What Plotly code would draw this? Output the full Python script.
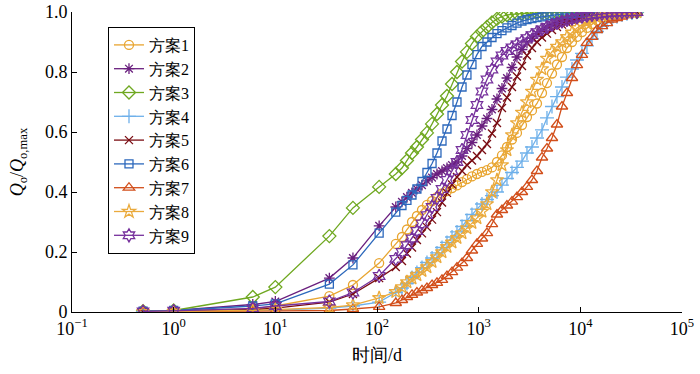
import plotly.graph_objects as go

time_d = [0.5, 1, 6, 10, 34, 58, 105, 153, 176, 197, 221, 247, 277, 310, 348, 389, 436, 488,
          547, 612, 686, 767, 859, 962, 1078, 1207, 1352, 1514, 1695, 1898, 2127, 2381, 2667,
          2986, 3344, 3745, 4197, 4697, 5261, 5891, 6600, 7389, 8279, 9268, 10380, 11623,
          13020, 14578, 16330, 18284, 20480, 22932, 25700, 28762, 32210, 36075]

names = ["方案1", "方案2", "方案3", "方案4", "方案5", "方案6", "方案7", "方案8", "方案9"]

x_tickvals = [0.1, 1, 10, 100, 1000, 10000, 100000]
x_ticktext = ["10<sup>−1</sup>", "10<sup>0</sup>", "10<sup>1</sup>", "10<sup>2</sup>",
              "10<sup>3</sup>", "10<sup>4</sup>", "10<sup>5</sup>"]
y_tickvals = [0, 0.2, 0.4, 0.6, 0.8, 1.0]
y_ticktext = ["0", "0.2", "0.4", "0.6", "0.8", "1.0"]

s1 = [0.002, 0.004, 0.01, 0.02, 0.053, 0.09, 0.163, 0.227, 0.25, 0.275, 0.30, 0.32, 0.34, 0.357,
      0.37, 0.383, 0.395, 0.403, 0.413, 0.422, 0.433, 0.443, 0.452, 0.46, 0.467, 0.473, 0.482,
      0.50, 0.522, 0.55, 0.575, 0.597, 0.623, 0.65, 0.672, 0.695, 0.73, 0.763, 0.795, 0.825,
      0.85, 0.88, 0.9, 0.917, 0.933, 0.947, 0.96, 0.972, 0.98, 0.987, 0.991, 0.994, 0.996,
      0.998, 0.999, 1.0]
s2 = [0.003, 0.005, 0.025, 0.035, 0.113, 0.18, 0.287, 0.35, 0.367, 0.383, 0.397, 0.41, 0.423,
      0.437, 0.448, 0.46, 0.47, 0.48, 0.49, 0.50, 0.52, 0.545, 0.565, 0.59, 0.62, 0.645, 0.675,
      0.71, 0.745, 0.78, 0.815, 0.85, 0.875, 0.897, 0.913, 0.928, 0.94, 0.95, 0.958, 0.965,
      0.971, 0.976, 0.98, 0.984, 0.987, 0.99, 0.992, 0.994, 0.995, 0.996, 0.997, 0.998, 0.998,
      0.999, 0.999, 1.0]
s3 = [0.003, 0.005, 0.05, 0.083, 0.253, 0.347, 0.417, 0.46, 0.48, 0.505, 0.53, 0.55, 0.575,
      0.597, 0.627, 0.66, 0.69, 0.72, 0.76, 0.80, 0.835, 0.867, 0.895, 0.918, 0.935, 0.95,
      0.965, 0.977, 0.985, 0.99, 0.992, 0.994, 0.995, 0.996, 0.996, 0.997, 0.997, 0.998,
      0.998, 0.998, 0.999, 0.999, 0.999, 0.999, 1.0, 1.0, 1.0, 1.0, 1.0, 1.0, 1.0, 1.0, 1.0,
      1.0, 1.0, 1.0]
s4 = [0.001, 0.002, 0.004, 0.006, 0.013, 0.02, 0.033, 0.065, 0.08, 0.095, 0.115, 0.132, 0.148,
      0.165, 0.18, 0.197, 0.215, 0.232, 0.25, 0.267, 0.285, 0.305, 0.325, 0.343, 0.36, 0.375,
      0.388, 0.40, 0.423, 0.445, 0.465, 0.482, 0.503, 0.53, 0.55, 0.58, 0.607, 0.647, 0.685,
      0.718, 0.75, 0.783, 0.81, 0.84, 0.862, 0.887, 0.91, 0.935, 0.952, 0.965, 0.976, 0.984,
      0.99, 0.994, 0.997, 1.0]
s5 = [0.0, 0.002, 0.008, 0.013, 0.033, 0.06, 0.113, 0.15, 0.17, 0.195, 0.215, 0.24, 0.262,
      0.283, 0.308, 0.333, 0.365, 0.397, 0.425, 0.45, 0.47, 0.49, 0.505, 0.52, 0.54, 0.56,
      0.595, 0.63, 0.68, 0.715, 0.75, 0.785, 0.82, 0.855, 0.88, 0.9, 0.915, 0.928, 0.94, 0.95,
      0.958, 0.965, 0.972, 0.978, 0.983, 0.987, 0.99, 0.993, 0.995, 0.997, 0.998, 0.999,
      0.999, 1.0, 1.0, 1.0]
s6 = [0.003, 0.005, 0.02, 0.027, 0.093, 0.157, 0.263, 0.333, 0.355, 0.372, 0.39, 0.41, 0.435,
      0.465, 0.495, 0.53, 0.57, 0.61, 0.655, 0.70, 0.75, 0.79, 0.825, 0.858, 0.885, 0.90,
      0.915, 0.928, 0.938, 0.947, 0.955, 0.963, 0.97, 0.975, 0.978, 0.981, 0.984, 0.987,
      0.989, 0.991, 0.993, 0.994, 0.995, 0.996, 0.997, 0.997, 0.998, 0.998, 0.999, 0.999,
      0.999, 1.0, 1.0, 1.0, 1.0, 1.0]
s7 = [0.0, 0.001, 0.002, 0.003, 0.005, 0.01, 0.017, 0.03, 0.04, 0.05, 0.057, 0.065, 0.072,
      0.08, 0.09, 0.097, 0.107, 0.12, 0.133, 0.148, 0.163, 0.18, 0.205, 0.227, 0.245, 0.263,
      0.293, 0.325, 0.34, 0.355, 0.368, 0.383, 0.40, 0.417, 0.44, 0.47, 0.515, 0.545, 0.58,
      0.625, 0.685, 0.73, 0.78, 0.823, 0.857, 0.897, 0.917, 0.94, 0.953, 0.963, 0.975, 0.98,
      0.985, 0.99, 0.995, 0.997]
s8 = [0.001, 0.002, 0.005, 0.008, 0.015, 0.023, 0.047, 0.067, 0.083, 0.1, 0.112, 0.123, 0.137,
      0.15, 0.167, 0.183, 0.20, 0.217, 0.232, 0.247, 0.263, 0.28, 0.297, 0.313, 0.335, 0.36,
      0.40, 0.44, 0.49, 0.54, 0.59, 0.63, 0.665, 0.70, 0.735, 0.775, 0.81, 0.845, 0.868, 0.885,
      0.9, 0.917, 0.932, 0.947, 0.958, 0.968, 0.976, 0.983, 0.988, 0.992, 0.995, 0.997, 0.998,
      0.999, 1.0, 1.0]
s9 = [0.002, 0.004, 0.012, 0.02, 0.035, 0.065, 0.12, 0.177, 0.20, 0.223, 0.245, 0.27, 0.295,
      0.323, 0.35, 0.38, 0.41, 0.44, 0.47, 0.50, 0.54, 0.59, 0.64, 0.69, 0.735, 0.775, 0.808,
      0.835, 0.855, 0.87, 0.882, 0.892, 0.902, 0.913, 0.923, 0.933, 0.942, 0.95, 0.957, 0.963,
      0.968, 0.973, 0.977, 0.981, 0.984, 0.987, 0.99, 0.992, 0.994, 0.996, 0.997, 0.998,
      0.999, 0.999, 1.0, 1.0]

series = [s1, s2, s3, s4, s5, s6, s7, s8, s9]
colors = ["#E8A530", "#6A1F7E", "#6FA820", "#6EB0EA", "#7A0C12", "#2C68BC", "#D24E1A",
          "#EAAA3C", "#76309C"]
symbols = ["circle-open", "asterisk-open", "diamond-open", "cross-thin-open", "x-thin-open",
           "square-open", "triangle-up-open", "star-open", "hexagram-open"]
sizes = [9, 9, 10, 10, 8, 8, 10, 10, 10]

serif = "Times New Roman"

fig = go.Figure()
for nm, ys, c, sym, sz in zip(names, series, colors, symbols, sizes):
    fig.add_trace(go.Scatter(
        x=time_d, y=ys, name=nm, mode="lines+markers",
        line=dict(color=c, width=1.3),
        marker=dict(symbol=sym, size=sz, color=c, line=dict(color=c, width=1.3)),
    ))

fig.update_layout(
    width=700, height=374,
    margin=dict(l=72, r=18, t=12, b=62, autoexpand=False),
    paper_bgcolor="white", plot_bgcolor="white",
    font=dict(family=serif, size=18, color="black"),
    showlegend=True,
    legend=dict(x=0.059, y=0.95, xanchor="left", yanchor="top",
                bordercolor="black", borderwidth=1, bgcolor="white",
                font=dict(family=serif, size=16), tracegroupgap=0,
                itemwidth=30),
)
fig.update_xaxes(
    type="log", range=[-1, 5], tickvals=x_tickvals, ticktext=x_ticktext, automargin=False,
    showline=True, linecolor="black", linewidth=1, mirror=False,
    ticks="inside", ticklen=5, tickcolor="black", showgrid=False, zeroline=False,
    title=dict(text="时间/d", font=dict(family=serif, size=18), standoff=10),
    tickfont=dict(family=serif, size=18), ticklabeloverflow="allow",
)
fig.update_yaxes(
    range=[0, 1.0], tickvals=y_tickvals, ticktext=y_ticktext, automargin=False,
    showline=True, linecolor="black", linewidth=1, mirror=False,
    ticks="inside", ticklen=5, tickcolor="black", showgrid=False, zeroline=False,
    title=dict(text="<i>Q</i><sub>o</sub>/<i>Q</i><sub>o,max</sub>",
               font=dict(family=serif, size=18), standoff=16),
    tickfont=dict(family=serif, size=18), ticklabeloverflow="allow",
)

fig.write_html("out.html", config={"displayModeBar": False},
               post_script="document.body.style.margin='0';document.body.style.padding='0';")
